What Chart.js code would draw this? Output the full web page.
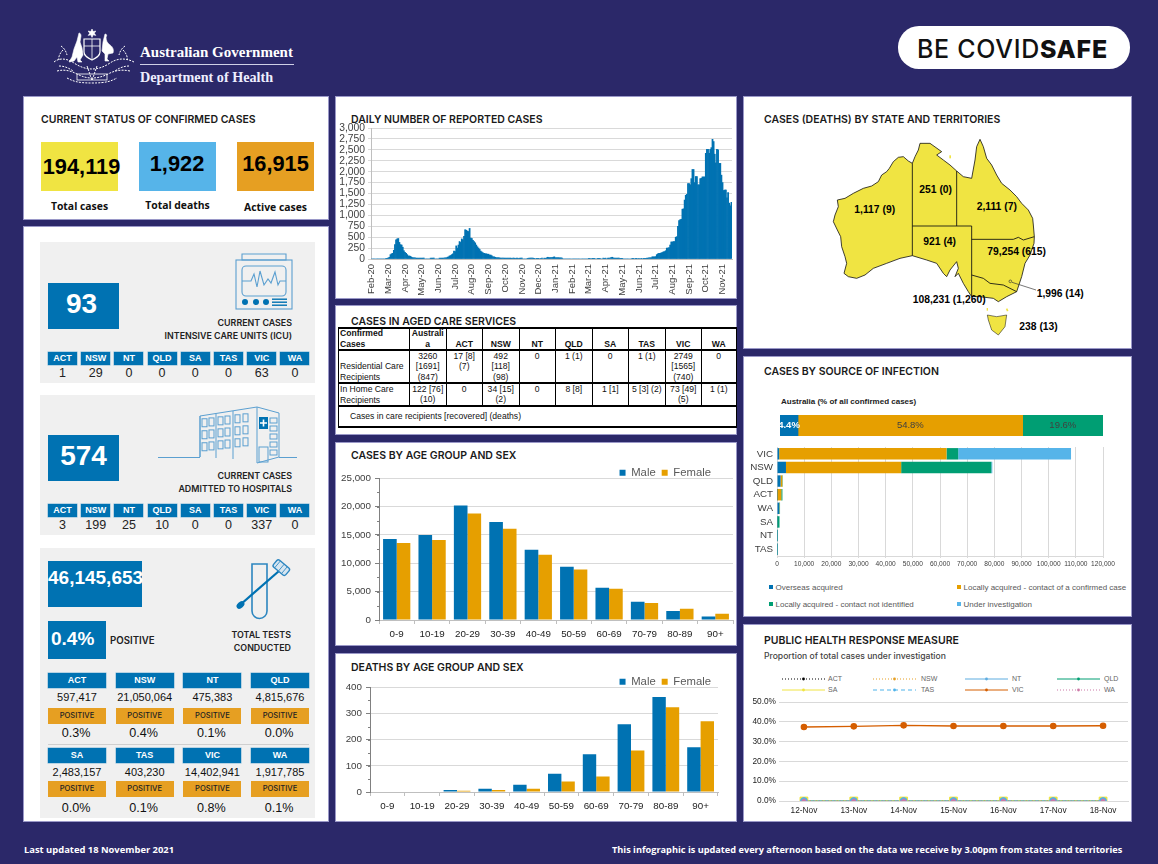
<!DOCTYPE html>
<html><head><meta charset="utf-8"><title>COVID-19 infographic</title>
<script src="https://cdn.jsdelivr.net/npm/chart.js@4/dist/chart.umd.min.js"></script>
<style>
html,body{margin:0;padding:0;background:#2b2869;width:1158px;height:864px;overflow:hidden}
#root{position:relative;width:1158px;height:864px;font-family:"Liberation Sans",Arial,sans-serif;color:#111}
.a{position:absolute;white-space:nowrap}
.panel{position:absolute;background:#fff;box-shadow:0 0 0 1px #9a98c8}
.grey{position:absolute;background:#f0f0f0}
.title{position:absolute;font:600 10.5px/14px Inter,sans-serif;color:#1a1a1a;white-space:nowrap}
.chip{position:absolute;background:#0072b2;color:#fff;font-weight:bold;text-align:center;box-shadow:0 0 0 .5px #7fb6d6}
.c{position:absolute;text-align:center;white-space:nowrap}
canvas{position:absolute;display:block}
table{border-collapse:collapse;table-layout:fixed;position:absolute;left:338px;top:327px;width:398px;font:8.6px/10.4px "Liberation Sans",sans-serif;color:#111}
td{padding:0;border-left:1px solid #000;border-right:1px solid #000;overflow:hidden}
td div{overflow:hidden;overflow-wrap:anywhere;padding:0 1px;display:flex;flex-direction:column}
td span{display:block}
tr{border-top:2px solid #000;border-bottom:2px solid #000}
.leg{position:absolute;font:8px/10px "Liberation Sans",sans-serif;color:#595959;white-space:nowrap}
.sq{display:inline-block;width:3.5px;height:3.5px;margin-right:3px;vertical-align:1.5px}
</style></head><body><div id="root"></div>
<script>
// ---------- DATA ----------
const statusValues = ['194,119','1,922','16,915'];
const statusLabels = ['Total cases','Total deaths','Active cases'];
const states = ['ACT','NSW','NT','QLD','SA','TAS','VIC','WA'];
const icuTotal = '93';
const icuValues = [1,29,0,0,0,0,63,0];
const hospTotal = '574';
const hospValues = [3,199,25,10,0,0,337,0];
const testTotal = '46,145,653';
const testPositive = '0.4%';
const testValues = ['597,417','21,050,064','475,383','4,815,676','2,483,157','403,230','14,402,941','1,917,785'];
const testRates = ['0.3%','0.4%','0.1%','0.0%','0.0%','0.1%','0.8%','0.1%'];

const dailyMonths = ['Feb-20','Mar-20','Apr-20','May-20','Jun-20','Jul-20','Aug-20','Sep-20','Oct-20','Nov-20','Dec-20','Jan-21','Feb-21','Mar-21','Apr-21','May-21','Jun-21','Jul-21','Aug-21','Sep-21','Oct-21','Nov-21'];
const dailyCases = [
0,0,0,0,0,0,0,0,0,0,0,0,0,5,15,
25,40,100,120,130,200,330,440,460,470,380,330,320,270,190,
150,130,100,70,70,60,40,30,25,25,20,20,20,20,20,
20,20,20,0,0,0,0,0,20,20,20,20,0,0,0,
0,20,20,20,20,20,25,25,40,50,70,80,100,120,180,
170,300,250,320,400,380,460,440,520,670,660,640,630,700,480,
470,430,400,370,320,280,250,220,180,160,140,130,120,120,110,
110,90,90,70,50,50,40,30,30,30,25,20,20,20,20,
20,20,20,20,20,20,10,20,20,10,20,20,10,20,20,
20,0,0,0,0,15,20,20,20,20,20,5,0,15,15,
15,0,15,20,0,20,15,25,40,35,30,30,30,40,50,
30,30,30,30,25,25,20,0,0,0,0,0,0,0,0,
0,0,0,0,0,0,0,0,0,0,0,0,0,0,0,
15,15,0,15,15,15,0,0,15,15,15,0,0,20,15,
20,0,20,20,20,30,40,25,20,20,20,20,20,15,15,
15,0,0,0,0,0,0,0,0,15,15,0,15,15,0,
15,0,15,0,15,15,15,20,20,25,25,30,50,50,50,
55,100,120,130,130,140,150,165,170,190,250,250,260,320,390,
390,400,400,500,510,750,880,900,910,1140,1150,1350,1460,1480,1730,
1730,1700,1840,2050,2050,1750,1890,1890,1700,1700,1840,1850,1880,1880,1880,
2420,2510,2510,2420,2510,2550,2740,2690,2400,2200,2510,2500,2190,2190,1920,
1750,1570,1580,1580,1400,1520,1280,1220,1300];
const samplesPerMonth = 15;

const tableHead = ['Confirmed Cases','Australia','ACT','NSW','NT','QLD','SA','TAS','VIC','WA'];
const tableResidential = ['Residential Care Recipients','3260 [1691] (847)','17 [8] (7)','492 [118] (98)','0','1 (1)','0','1 (1)','2749 [1565] (740)','0'];
const tableHome = ['In Home Care Recipients','122 [76] (10)','0','34 [15] (2)','0','8 [8]','1 [1]','5 [3] (2)','73 [49] (5)','1 (1)'];
const tableNote = 'Cases in care recipients [recovered] (deaths)';

const ageGroups = ['0-9','10-19','20-29','30-39','40-49','50-59','60-69','70-79','80-89','90+'];
const casesMale = [14300,15000,20200,17300,12400,9400,5700,3200,1600,600];
const casesFemale = [13600,14100,18800,16100,11500,8900,5500,3000,2000,1100];
const deathsMale = [0,0,8,12,28,70,144,259,363,171];
const deathsFemale = [0,0,5,8,12,40,59,159,324,270];

const mapLabels = [['1,117 (9)',313,339],['251 (0)',508,279],['2,111 (7)',680,329],['921 (4)',520,434],['79,254 (615)',712,464],['108,231 (1,260)',488,609],['1,996 (14)',860,590],['238 (13)',808,690]];

const sourceNames = ['Overseas acquired','Locally acquired - contact of a confirmed case','Locally acquired - contact not identified','Under investigation'];
const sourceShare = [4.4,54.8,19.6];
const sourceStates = ['VIC','NSW','QLD','ACT','WA','SA','NT','TAS'];
const srcOverseas = [800,3300,1300,30,800,60,30,30];
const srcContact = [61600,42400,650,1550,100,50,20,20];
const srcUnknown = [4300,33200,161,416,217,811,201,188];
const srcInvestigation = [41531,354,0,0,0,0,0,0];

const lineDays = ['12-Nov','13-Nov','14-Nov','15-Nov','16-Nov','17-Nov','18-Nov'];
const lineACT = [0,0,0,0,0,0,0];
const lineNSW = [0,0,0,0,0,0,0];
const lineNT = [0,0,0,0,0,0,0];
const lineQLD = [0,0,0,0,0,0,0];
const lineSA = [0,0,0,0,0,0,0];
const lineTAS = [0,0,0,0,0,0,0];
const lineVIC = [37.4,37.7,38.2,37.9,37.9,37.9,38.0];
const lineWA = [0,0,0,0,0,0,0];

// ---------- LAYOUT HELPERS ----------
const root = document.getElementById('root');
const BLUE='#0072b2',ORANGE='#e69f00',GREEN='#009e73',SKY='#56b4e9',YELLOW='#f0e442',VERM='#d55e00',PINK='#cc79a7';
function el(cls,l,t,w,h,txt,css){const d=document.createElement('div');d.className=cls;
  let s=`left:${l}px;top:${t}px;`;if(w!=null)s+=`width:${w}px;`;if(h!=null)s+=`height:${h}px;`;d.style.cssText=s+(css||'');
  if(txt!=null)d.textContent=txt;root.appendChild(d);return d;}
function svg(l,t,w,h,vb,inner){const d=document.createElement('div');d.style.cssText=`position:absolute;left:${l}px;top:${t}px;width:${w}px;height:${h}px`;
  d.innerHTML=`<svg xmlns="http://www.w3.org/2000/svg" width="${w}" height="${h}" viewBox="${vb}" style="display:block;overflow:visible">${inner}</svg>`;root.appendChild(d);}
function canvas(l,t,w,h){const c=document.createElement('canvas');c.width=w;c.height=h;c.style.cssText=`left:${l}px;top:${t}px;width:${w}px;height:${h}px`;root.appendChild(c);return c;}
const FONT='"Liberation Sans",Arial,sans-serif';
const TICK='#404040',GRID='#d9d9d9';
Chart.defaults.font.family=FONT;Chart.defaults.animation=false;

// panels
[[24,97,304,122],[24,227,304,594],[336,97,400,201],[336,306,400,128],[336,443,400,202],[336,654,400,167],[744,97,387,251],[744,357,387,259],[744,625,387,196]]
 .forEach(p=>el('panel',p[0],p[1],p[2],p[3]));
[[40,242,275,141],[40,395,275,140],[40,548,275,270]].forEach(p=>el('grey',p[0],p[1],p[2],p[3]));
// titles
[['CURRENT STATUS OF CONFIRMED CASES',41,112],['DAILY NUMBER OF REPORTED CASES',351,112],['CASES IN AGED CARE SERVICES',351,314],['CASES BY AGE GROUP AND SEX',351,448],['DEATHS BY AGE GROUP AND SEX',351,660],['CASES (DEATHS) BY STATE AND TERRITORIES',764,112],['CASES BY SOURCE OF INFECTION',764,364],['PUBLIC HEALTH RESPONSE MEASURE',764,633]]
 .forEach(t=>el('title',t[1],t[2]+1,null,null,t[0]));
el('a',764,650,null,null,'Proportion of total cases under investigation','font:500 8.6px/12px Inter,sans-serif;color:#444');

// header
svg(53,26,82,62,'0 0 82 62',`<g fill="#fff" stroke="#fff" stroke-width=".6">
<path d="M39 3l1.2 2.6 2.6-.6-1.5 2.2 1.5 2.2-2.6-.6-1.2 2.6-1.2-2.6-2.6.6 1.5-2.2-1.5-2.2 2.6.6z"/>
<path d="M26 7c1 0 2 1 2 3l-1 6 2 6 1 7-3 5 2 2-4 0-1-5-3 4-5 1 3-5 2-8 3-8z"/>
<path d="M52 8c2 0 2 2 1 3 0 3 1 6 4 8 3 2 4 5 3 8l-5 1-1 5 2 2-4 0 0-7-3-3 1-9z"/>
</g>
<path d="M31 13h16v13c0 4-4 6-8 8-4-2-8-4-8-8z" fill="none" stroke="#fff" stroke-width="1.2"/>
<path d="M31 20h16M39 13v20" stroke="#fff" stroke-width=".8"/>
<g fill="none" stroke="#fff" stroke-width="1" stroke-dasharray="2 1.2">
<path d="M1 36c6-5 14-3 20 1s12 6 18 6 12-2 18-6 14-6 24-1"/>
<path d="M4 45c8-2 14 0 20 3s10 4 15 4 10-1 16-4 12-5 22-3"/>
<path d="M10 24c-3 3-5 7-4 10M70 24c3 3 5 7 4 10M14 52c6 3 10 5 25 5s19-2 25-5"/>
<path d="M6 40c5 0 10 2 14 5M76 40c-5 0-10 2-14 5M8 20c3 2 5 5 6 9M72 20c-3 2-5 5-6 9M34 40c2 5 3 9 5 15M44 40c-2 5-3 9-5 15"/>
</g>
<rect x="24" y="48" width="30" height="6" fill="none" stroke="#fff" stroke-width=".8"/>`);
el('a',140,42,null,null,'Australian Government','font:bold 15px/20px "Liberation Serif",serif;color:#fff');
el('a',140,64,154,1,null,'background:#cfcfe6');
el('a',140,68,null,null,'Department of Health','font:bold 14.2px/18px "Liberation Serif",serif;color:#eef');
el('a',898,26,232,43,null,'background:#fff;border-radius:21px');
const cs=el('a',917,34,null,null,null,'font:500 25px/30px Inter,sans-serif;color:#111;letter-spacing:.7px');
cs.innerHTML='BE COVID<b style="font-weight:800">SAFE</b>';
// footer
el('a',24,844,null,null,'Last updated 18 November 2021','font:bold 9.4px/12px "Open Sans",sans-serif;color:#fff');
el('a',612,844,null,null,'This infographic is updated every afternoon based on the data we receive by 3.00pm from states and territories','font:bold 9.2px/12px "Open Sans",sans-serif;color:#fff');

// status boxes
const statusBoxX=[41,139,237],statusBoxCol=[YELLOW,SKY,'#e69f22'],statusTextY=[154,151,151],statusLabelY=[199,198,200],statusTextCx=[81.5,177,275.5];
statusValues.forEach((v,i)=>{
  el('a',statusBoxX[i],142,77,49,null,'background:'+statusBoxCol[i]);
  el('c',statusTextCx[i]-45,statusTextY[i],90,26,v,'font:bold 21.8px/26px "Liberation Sans",sans-serif;color:#000');
  el('c',statusBoxX[i],statusLabelY[i],77,14,statusLabels[i],'font:bold 10.4px/14px "Open Sans",sans-serif;color:#111');
});

// ICU + hospital blocks
function stateRow(y,vals){states.forEach((s,i)=>{const x=48+i*33.2;
  el('chip',x,y,29,13,s,'font-size:9px;line-height:13px');
  el('c',x-2,y+13,33,16,String(vals[i]),'font-size:12.5px;line-height:16px;color:#222');});}
el('chip',48,283,71,46,icuTotal,'font-size:28px;line-height:41px;padding-right:4px;width:67px;box-shadow:none');
el('chip',48,435,71,46,hospTotal,'font-size:28px;line-height:41px;box-shadow:none');
const headCss='font:600 8.9px/13px Inter,sans-serif;color:#222;text-align:right;';
el('a',130,316,162,null,'CURRENT CASES',headCss);
el('a',130,329,162,null,'INTENSIVE CARE UNITS (ICU)',headCss);
el('a',130,469,162,null,'CURRENT CASES',headCss);
el('a',130,482,162,null,'ADMITTED TO HOSPITALS',headCss);
stateRow(352,icuValues);
stateRow(504,hospValues);
// icons
svg(235,253,58,60,'0 0 58 60',`<g fill="none" stroke="#5b9fd0" stroke-width="1.1"><path d="M7 1h44v6H7z"/><rect x="1" y="7" width="56" height="49"/><rect x="7" y="13" width="44" height="30" rx="4"/><path d="M7 28h9l3-7 3 13 3-16 4 14 4-6 3 4 4-11 3 13 2-4h6" /></g><g fill="#0072b2"><circle cx="10" cy="49" r="3"/><circle cx="21" cy="49" r="3"/><circle cx="31" cy="49" r="3"/><rect x="37" y="45.5" width="15" height="1.4"/><rect x="37" y="48.5" width="15" height="1.4"/><rect x="37" y="51.5" width="15" height="1.4"/></g>`);
(function(){let g='<g fill="none" stroke="#5b9fd0" stroke-width="1"><path d="M158 457.5H200M279 457.5H297M200 457V416L257 407 279 413V457L257 463V407M200 416L200 457M216 414V458M233 411V459"/>';
 const cols=[202,209,218,225,235,243];const rows=[419,431,443];
 rows.forEach(r=>cols.forEach(c=>{g+=`<rect x="${c}" y="${r-(c-200)*0.12}" width="5" height="8"/>`;}));
 [418,426,434,442,450].forEach(y=>{g+=`<rect x="270" y="${y}" width="7" height="5"/>`;});
 g+='<rect x="259" y="447" width="9" height="15"/></g><rect x="259" y="417" width="9" height="12" fill="#0072b2"/><path d="M263.5 419.5v7M260 423h7" stroke="#fff" stroke-width="1.6"/>';
 svg(0,0,400,500,'0 0 400 500',g);})();
svg(235,558,58,62,'0 0 58 62',`<path d="M17 6h15v47a7.5 7.5 0 0 1-15 0z" fill="none" stroke="#2c86c0" stroke-width="1.6"/><path d="M5 47L44 13" stroke="#0072b2" stroke-width="2.2"/><ellipse cx="5.5" cy="47" rx="4.5" ry="3" transform="rotate(-42 5.5 47)" fill="#0072b2"/><g transform="rotate(40 46 10)"><rect x="38" y="5" width="16" height="9" rx="2" fill="#d7e6f1" stroke="#2c86c0" stroke-width="1.4"/><path d="M41 5v9M46 5v9M50 5v9" stroke="#2c86c0" stroke-width=".8"/></g>`);

// tests
el('chip',48,561,94,46,null,'box-shadow:none');
el('a',48,567,94,null,testTotal,'font:bold 19px/22px "Liberation Sans",sans-serif;color:#fff');
el('chip',48,621,58,38,null,'box-shadow:none');
el('a',51,628,56,null,testPositive,'font:bold 19px/22px "Liberation Sans",sans-serif;color:#fff');
el('a',110,634,null,null,'POSITIVE','font:600 9.7px/14px Inter,sans-serif;color:#222');
el('a',200,628,91,null,'TOTAL TESTS','font:600 8.9px/13px Inter,sans-serif;color:#222;text-align:right');
el('a',200,641,91,null,'CONDUCTED','font:600 8.9px/13px Inter,sans-serif;color:#222;text-align:right');
el('a',48,744,261,1,null,'background:#cfcfcf');
const gridX=[48,115.7,183.4,251],gridY=[[673,690,708,725],[748,765,781,800]];
states.forEach((s,i)=>{const col=i%4,row=i<4?0:1,x=gridX[col],y=gridY[row];
  el('chip',x,y[0],58,15,s,'font-size:9px;line-height:15px');
  el('c',x-4,y[1],66,14,testValues[i],'font-size:11px;line-height:14px;color:#111');
  el('c',x,y[2],58,16,'POSITIVE','background:#e69f22;font:500 7.6px/16px Inter,sans-serif;color:#222');
  el('c',x-2,y[3],60,16,testRates[i],'font-size:12.6px;line-height:16px;color:#111');
});

// table
(function(){const colW=[71,36.5,36.5,36.5,36.5,36.5,36.5,36.5,36.5,34.5],rowH=[20,31,21];
 const t=document.createElement('table');let h='<colgroup>'+colW.map(w=>`<col style="width:${w}px">`).join('')+'</colgroup>';
 [tableHead,tableResidential,tableHome].forEach((row,r)=>{h+=`<tr>`;
  row.forEach((c,i)=>{let st=`height:${rowH[r]}px;`;
   if(r==0)st+='font-weight:bold;justify-content:flex-end;'+(i?'text-align:center;':'');
   else if(i==0)st+='justify-content:flex-end;';else st+='text-align:center;';
   h+=`<td><div style="${st}"><span>${c}</span></div></td>`;});h+='</tr>';});
 h+=`<tr><td colspan="10"><div style="height:19px;justify-content:center;padding-left:11px">${tableNote}</div></td></tr>`;
 t.innerHTML=h;root.appendChild(t);})();

// map
(function(){const outline='M487 190L475 183 460 170 445 172 430 185 418 205 410 215 395 225 385 245 365 258 340 265 310 280 285 295 262 300 265 320 255 345 250 365 262 390 272 410 275 440 285 470 290 490 282 520 295 530 320 535 345 525 370 505 410 490 450 475 487 467 530 480 560 490 580 520 590 530 600 510 620 485 625 505 615 530 625 520 640 550 655 575 665 590 690 590 730 595 745 605 770 590 800 575 815 530 825 490 840 465 852 430 853 410 850 375 848 355 835 330 815 310 800 290 780 270 755 250 740 225 725 195 710 175 700 140 690 118 680 140 675 180 665 235 640 230 620 213 600 195 580 180 560 165 575 155 540 130 510 130 505 150 495 170Z';
 const tas='M712 645L740 650 770 645 765 680 745 705 725 690 715 660Z';
 let g=`<path d="${outline}" fill="${YELLOW}" stroke="#111" stroke-width="2.4" stroke-linejoin="round"/><path d="${tas}" fill="${YELLOW}" stroke="#111" stroke-width="1.6"/>`;
 g+=`<path d="M487 190V467M620 213V378M487 378H665V590M665 418H790L805 412 820 420 853 410M665 525L700 535 720 550 760 555 800 575" fill="none" stroke="#111" stroke-width="2.6"/>`;
 g+=`<rect x="598" y="166" width="5" height="9" fill="${YELLOW}"/><rect x="710" y="624" width="4" height="8" fill="${YELLOW}"/><rect x="769" y="626" width="5" height="8" fill="${YELLOW}" transform="rotate(-25 771 630)"/>`;
 g+=`<circle cx="781" cy="544" r="4" fill="none" stroke="#333" stroke-width="2"/><path d="M786 547L858 570" stroke="#333" stroke-width="2"/>`;
 mapLabels.forEach(m=>{g+=`<text x="${m[1]}" y="${m[2]}" font-family="Liberation Sans" font-weight="bold" font-size="31" fill="#000">${m[0]}</text>`;});
 svg(750,100,385,245,'0 0 1155 735',g);})();

// legends (html)
function legSq(x,y,col,txt){const d=el('leg',x,y,null,null,null);d.innerHTML=`<span class="sq" style="background:${col}"></span>${txt}`;}
[[769,583],[957,583],[769,600],[957,600]].forEach((p,i)=>legSq(p[0],p[1],[BLUE,ORANGE,GREEN,SKY][i],sourceNames[i]));
el('a',781,396,null,null,'Australia (% of all confirmed cases)','font:bold 8px/12px "Liberation Sans",sans-serif;color:#222');

// ---------- CHARTS ----------
function xFit(h){return s=>{s.height=h;s.paddingLeft=0;s.paddingRight=0;};}
function yFit(w){return s=>{s.width=w;s.paddingTop=0;s.paddingBottom=0;};}
function minorTicks(step){return {id:'minor',afterDatasetsDraw(ch){const y=ch.scales.y,c=ch.ctx;c.save();c.strokeStyle='#808080';c.lineWidth=1;
  for(let v=0;v<=y.max;v+=step){const p=Math.round(y.getPixelForValue(v))+.5;c.beginPath();c.moveTo(y.right-2,p);c.lineTo(y.right,p);c.stroke();}c.restore();}};}
function placeLegend(rightEdgeFromCanvas,topFromCanvas){return {id:'placeLegend',afterLayout(ch){const L=ch.legend;L.right=rightEdgeFromCanvas;L.top=topFromCanvas;}};}

// daily
new Chart(canvas(336,120,400,178),{type:'bar',
 data:{labels:dailyCases.map((_,i)=>i%samplesPerMonth===0?dailyMonths[i/samplesPerMonth]:''),datasets:[{data:dailyCases,backgroundColor:BLUE,barPercentage:1,categoryPercentage:1,borderWidth:0}]},
 options:{responsive:false,layout:{autoPadding:false,padding:{top:8,right:4,left:0,bottom:0}},plugins:{legend:{display:false},tooltip:{enabled:false}},
  scales:{x:{afterFit:xFit(39),grid:{display:false,drawTicks:false},border:{color:'#bfbfbf'},ticks:{autoSkip:false,minRotation:90,maxRotation:90,padding:5,font:{size:9.5},color:TICK,callback(v){return this.getLabelForValue(v);}}},
   y:{afterFit:yFit(35),min:0,max:3000,ticks:{stepSize:250,autoSkip:false,font:{size:10.3},color:TICK,padding:3},border:{color:'#bfbfbf'},grid:{color:GRID,lineWidth:1,tickLength:3}}}}});

function ageChart(box,plot,male,female,maxV,step,minor,legR,legT,catP){
 const c=canvas(box[0],box[1],box[2],box[3]);
 new Chart(c,{type:'bar',plugins:[minorTicks(minor),placeLegend(legR,legT)],
  data:{labels:ageGroups,datasets:[{label:'Male',data:male,backgroundColor:BLUE},{label:'Female',data:female,backgroundColor:ORANGE}]},
  options:{responsive:false,layout:{autoPadding:false,padding:{top:0,right:plot.r,left:0,bottom:0}},datasets:{bar:{barPercentage:1,categoryPercentage:catP}},
   plugins:{tooltip:{enabled:false},legend:{position:'top',align:'end',labels:{boxWidth:6,boxHeight:6,padding:6,font:{size:11.3},color:'#595959'}}},
   scales:{x:{afterFit:xFit(plot.b),offset:true,grid:{drawOnChartArea:false,color:'#bfbfbf',tickLength:4,offset:true},border:{color:'#bfbfbf'},ticks:{font:{size:9.8},color:'#222',padding:4,autoSkip:false,maxRotation:0}},
    y:{afterFit:yFit(plot.l),min:0,max:maxV,ticks:{stepSize:step,font:{size:9.8},color:'#404040',padding:4},border:{color:'#808080'},grid:{color:GRID,tickLength:4,tickColor:'#808080'}}}}});
}
ageChart([336,451,400,194],{l:43,r:3,b:25},casesMale,casesFemale,25000,5000,2500,381,10,.77);
ageChart([336,660,400,161],{l:34,r:18,b:29},deathsMale,deathsFemale,400,100,50,381,10,.77);

// source share bar
new Chart(canvas(780,415,323,21),{type:'bar',
 plugins:[{id:'shareLabels',afterDatasetsDraw(ch){const c=ch.ctx;c.save();c.textAlign='center';c.textBaseline='middle';
   ch.data.datasets.forEach((ds,i)=>{const b=ch.getDatasetMeta(i).data[0];c.fillStyle=i===0?'#fff':'#404040';c.font=(i===0?'bold ':'')+'9.5px '+FONT;c.fillText(sourceShare[i].toFixed(1)+'%',(b.base+b.x)/2,b.y);});c.restore();}}],
 data:{labels:['Australia'],datasets:sourceShare.map((v,i)=>({label:sourceNames[i],data:[v],backgroundColor:[BLUE,ORANGE,GREEN][i]}))},
 options:{responsive:false,indexAxis:'y',layout:{autoPadding:false,padding:0},datasets:{bar:{barPercentage:1,categoryPercentage:1}},plugins:{legend:{display:false},tooltip:{enabled:false}},
  scales:{x:{display:false,stacked:true,min:0,max:78.8},y:{display:false,stacked:true}}}});

// source by state
new Chart(canvas(745,445,387,125),{type:'bar',
 data:{labels:sourceStates,datasets:[srcOverseas,srcContact,srcUnknown,srcInvestigation].map((d,i)=>({label:sourceNames[i],data:d,backgroundColor:[BLUE,ORANGE,GREEN,SKY][i]}))},
 options:{responsive:false,indexAxis:'y',layout:{autoPadding:false,padding:{top:2,right:29,left:0,bottom:0}},datasets:{bar:{barPercentage:1,categoryPercentage:.84}},plugins:{legend:{display:false},tooltip:{enabled:false}},
  scales:{x:{afterFit:xFit(14),stacked:true,min:0,max:120000,ticks:{stepSize:10000,font:{size:6.6},color:TICK,padding:2,autoSkip:false,maxRotation:0},grid:{color:GRID,tickLength:2},border:{color:GRID}},
   y:{afterFit:yFit(32),stacked:true,ticks:{font:{size:9.8},color:TICK,padding:4,autoSkip:false},grid:{display:false,drawTicks:false},border:{color:GRID}}}}});

// line chart
const lineData=[lineACT,lineNSW,lineNT,lineQLD,lineSA,lineTAS,lineVIC,lineWA];
const lineStyle=[
 {c:'#000',d:[1,2],p:'rectRot',r:2},{c:'#e69f22',d:[1,2],p:'rectRot',r:2.5},{c:'#5dace0',d:[],p:'triangle',r:3},{c:GREEN,d:[],p:'rect',r:3.5},
 {c:YELLOW,d:[],p:'rect',r:5.5},{c:'#4fb3ea',d:[4,3],p:'circle',r:3.4},{c:VERM,d:[],p:'circle',r:2.6},{c:PINK,d:[1,2],p:'circle',r:2},];
new Chart(canvas(745,695,387,126),{type:'line',
 data:{labels:lineDays,datasets:lineData.map((d,i)=>({label:states[i],data:d,order:8-i,borderColor:lineStyle[i].c,backgroundColor:lineStyle[i].c,borderDash:lineStyle[i].d,borderWidth:i===6?1.4:1,pointStyle:lineStyle[i].p,pointRadius:lineStyle[i].r,tension:0}))},
 options:{responsive:false,layout:{autoPadding:false,padding:{top:7,right:4,left:0,bottom:0}},plugins:{legend:{display:false},tooltip:{enabled:false}},
  scales:{x:{afterFit:xFit(20),offset:true,grid:{display:false,drawTicks:false},border:{color:GRID},ticks:{font:{size:8.3},color:'#222',padding:5,autoSkip:false,maxRotation:0}},
   y:{afterFit:yFit(34),min:0,max:50,ticks:{stepSize:10,font:{size:8.3},color:'#222',padding:3,callback:v=>v.toFixed(1)+'%'},grid:{color:GRID,drawTicks:false},border:{display:false}}}}});
// line legend
const legX=[[782,828],[873,921],[965,1012],[1057,1104]],legRows=[679,690];
states.forEach((s,i)=>{const col=i%4,row=i<4?0:1,[x1,x2]=legX[col],y=legRows[row],st=lineStyle[i];
 const dash=st.d.length?`stroke-dasharray="${st.d.join(' ')}"`:'';
 svg(x1,y-4,43,8,'0 0 43 8',`<path d="M0 4H43" stroke="${st.c}" stroke-width="1" ${dash}/><circle cx="21.5" cy="4" r="1.4" fill="${st.c}"/>`);
 el('leg',x2,y-5,null,null,s,'font-size:7px;color:#666');});
</script></body></html>
